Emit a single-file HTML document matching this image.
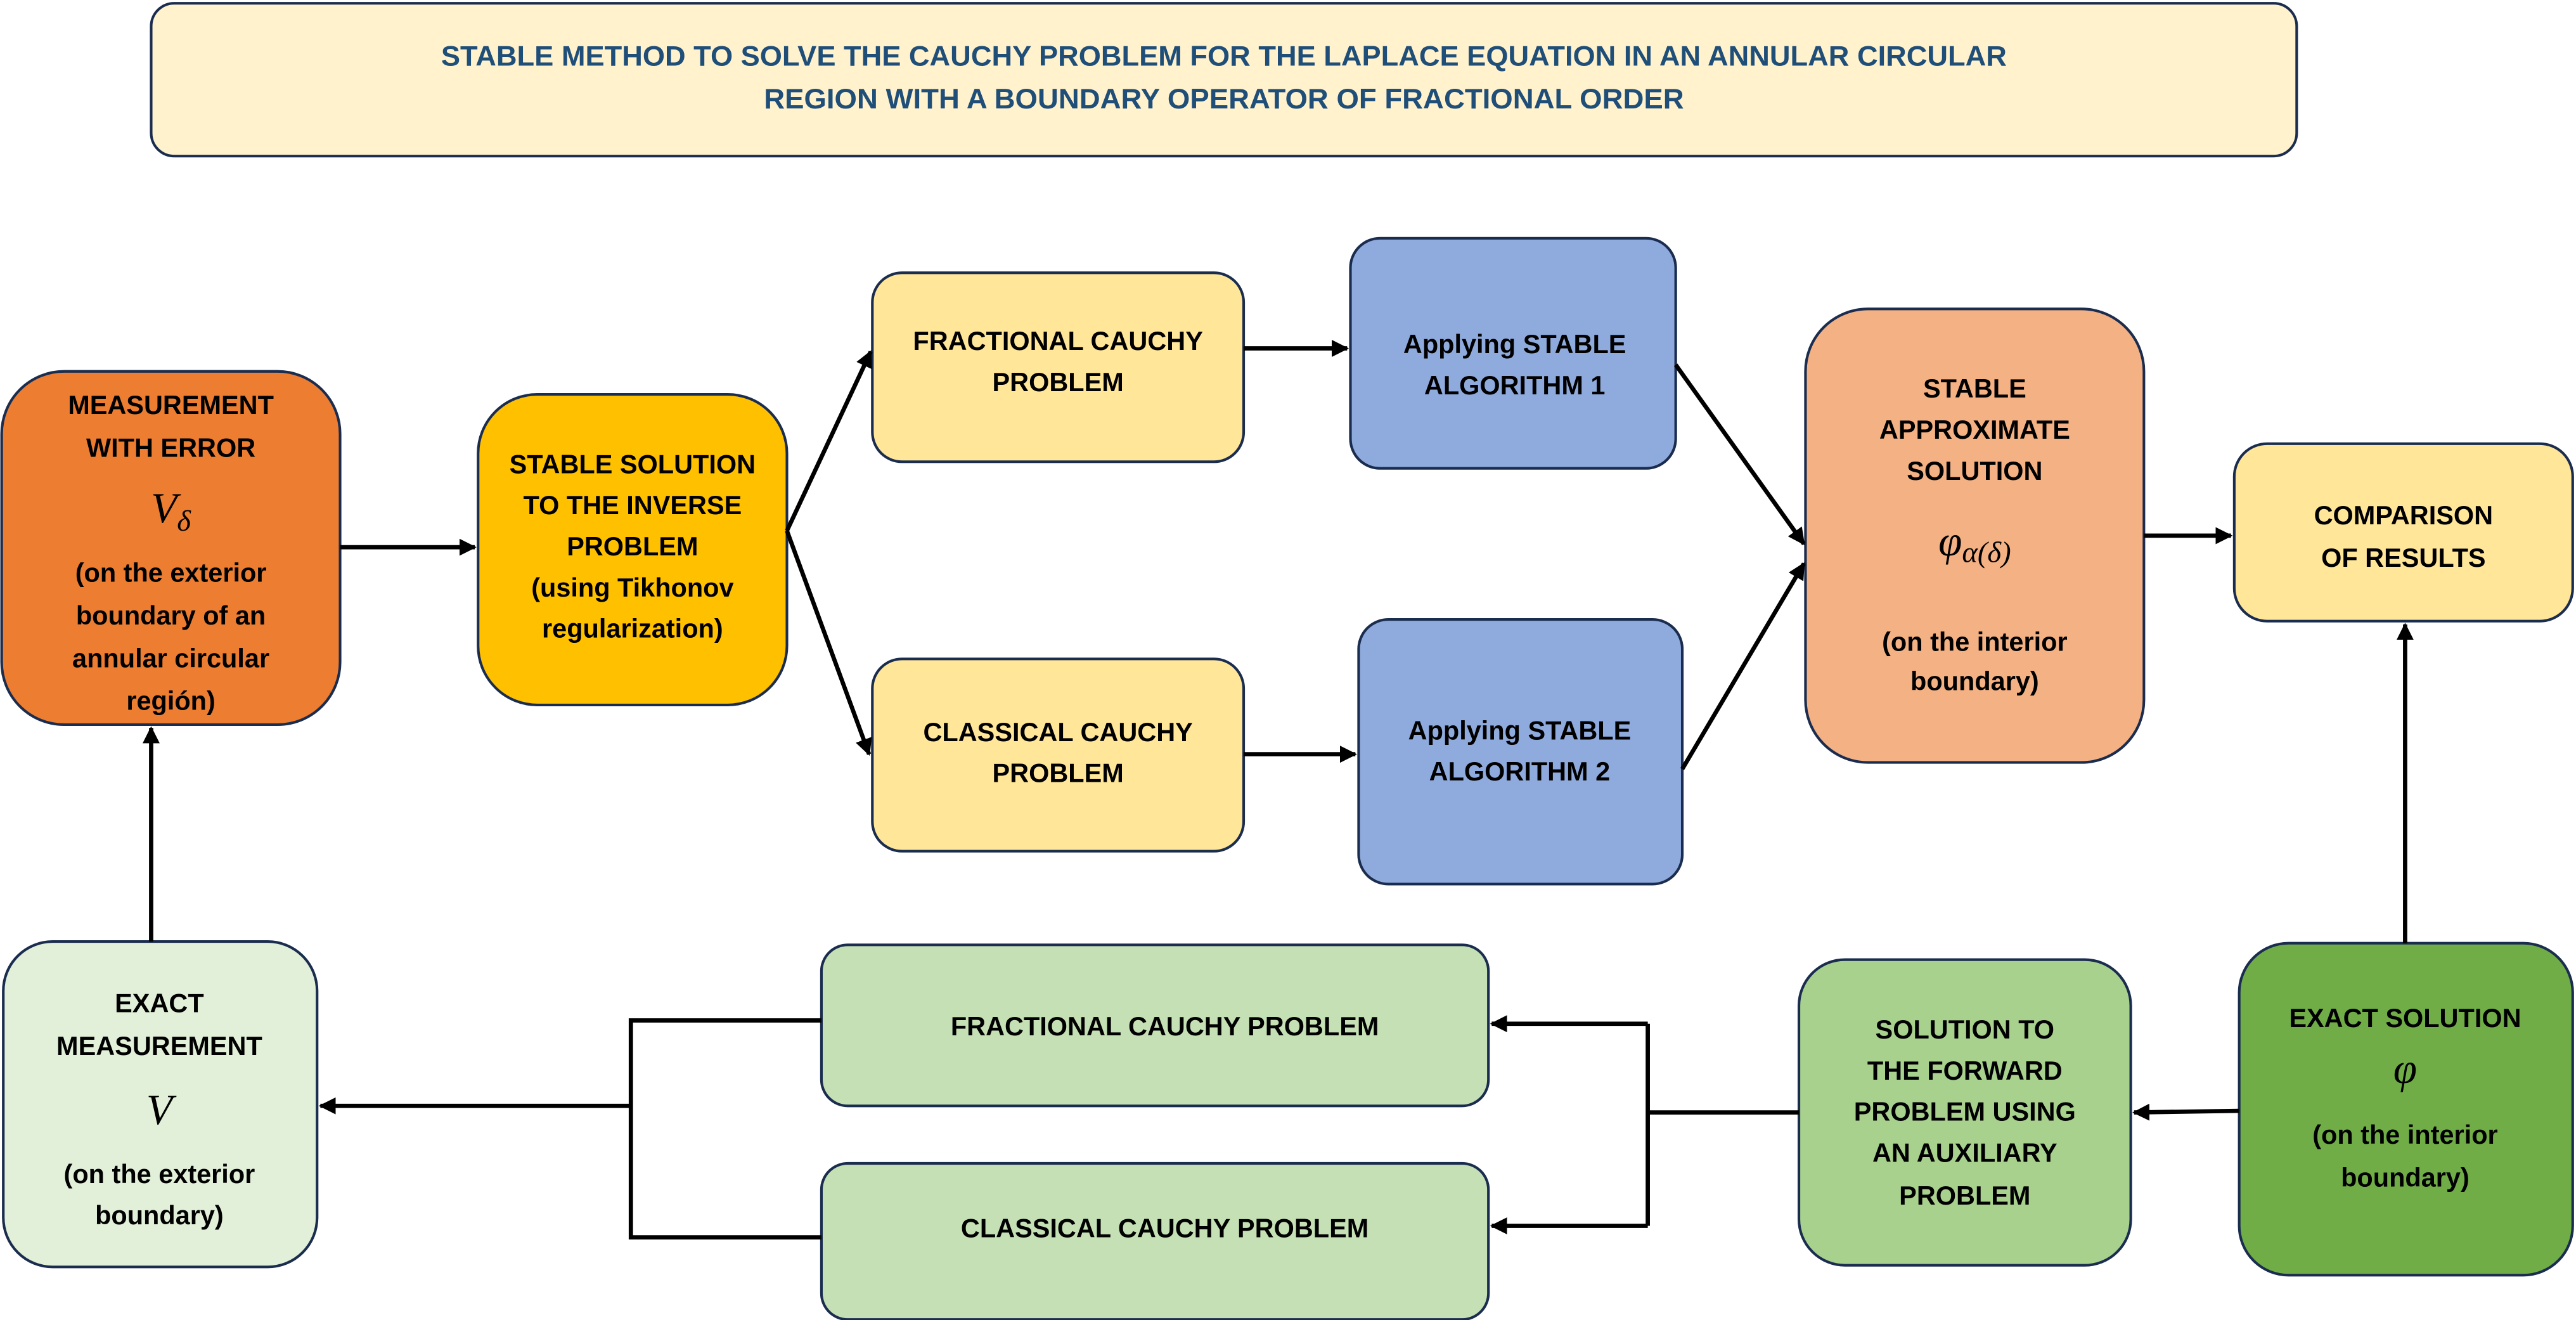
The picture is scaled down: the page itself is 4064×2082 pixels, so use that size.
<!DOCTYPE html>
<html><head><meta charset="utf-8"><style>
html,body{margin:0;padding:0;background:#fff;}
svg{display:block;}
text{font-family:"Liberation Sans",sans-serif;font-weight:bold;text-anchor:middle;fill:#000;}
.m{font-family:"Liberation Serif",serif;font-style:italic;font-weight:normal;}
</style></head><body>
<svg width="4064" height="2082" viewBox="0 0 1568 803.3" xmlns="http://www.w3.org/2000/svg">
<defs>
<marker id="a" markerWidth="4" markerHeight="4" refX="3.6" refY="2" orient="auto" markerUnits="strokeWidth">
<path d="M0,0 L4,2 L0,4 Z" fill="#000"/></marker>
</defs>
<g stroke="#1b2d4f" stroke-width="1.6">
<rect x="92" y="2" width="1306" height="93" rx="14" fill="#fff2cc"/>
<rect x="1" y="226" width="206" height="215" rx="38" fill="#ed7d31"/>
<rect x="291" y="240" width="188" height="189" rx="36" fill="#ffc000"/>
<rect x="531" y="166" width="226" height="115" rx="18" fill="#ffe699"/>
<rect x="822" y="145" width="198" height="140" rx="18" fill="#8faadc"/>
<rect x="531" y="401" width="226" height="117" rx="18" fill="#ffe699"/>
<rect x="827" y="377" width="197" height="161" rx="18" fill="#8faadc"/>
<rect x="1099" y="188" width="206" height="276" rx="38" fill="#f4b183"/>
<rect x="1360" y="270" width="206" height="108" rx="20" fill="#ffe699"/>
<rect x="2" y="573" width="191" height="198" rx="30" fill="#e2f0d9"/>
<rect x="500" y="575" width="406" height="98" rx="16" fill="#c5e0b4"/>
<rect x="500" y="708" width="406" height="95" rx="16" fill="#c5e0b4"/>
<rect x="1095" y="584" width="202" height="186" rx="28" fill="#a9d18e"/>
<rect x="1363" y="574" width="203" height="202" rx="30" fill="#70ad47"/>
</g>
<g stroke="#000" stroke-width="2.6" fill="none">
<line x1="207" y1="333" x2="289" y2="333" marker-end="url(#a)"/>
<line x1="479" y1="323" x2="530" y2="214" marker-end="url(#a)"/>
<line x1="479" y1="323" x2="529" y2="459" marker-end="url(#a)"/>
<line x1="757" y1="212" x2="820" y2="212" marker-end="url(#a)"/>
<line x1="757" y1="459" x2="825" y2="459" marker-end="url(#a)"/>
<line x1="1020" y1="222" x2="1098" y2="331" marker-end="url(#a)"/>
<line x1="1024" y1="468" x2="1098" y2="343" marker-end="url(#a)"/>
<line x1="1305" y1="326" x2="1358" y2="326" marker-end="url(#a)"/>
<line x1="1464" y1="574" x2="1464" y2="380" marker-end="url(#a)"/>
<line x1="1363" y1="676" x2="1299" y2="677" marker-end="url(#a)"/>
<polyline points="1095,677 1003,677"/>
<line x1="1003" y1="623" x2="1003" y2="746"/>
<line x1="1003" y1="623" x2="908" y2="623" marker-end="url(#a)"/>
<line x1="1003" y1="746" x2="908" y2="746" marker-end="url(#a)"/>
<polyline points="500,621 384,621 384,753 500,753"/>
<line x1="384" y1="673" x2="195" y2="673" marker-end="url(#a)"/>
<line x1="92" y1="573" x2="92" y2="443" marker-end="url(#a)"/>
</g>
<g style="fill:#1f4e79;font-size:17px">
<text x="745" y="40" textLength="953" lengthAdjust="spacingAndGlyphs" style="fill:#1f4e79">STABLE METHOD TO SOLVE THE CAUCHY PROBLEM FOR THE LAPLACE EQUATION IN AN ANNULAR CIRCULAR</text>
<text x="745" y="66" textLength="560" lengthAdjust="spacingAndGlyphs" style="fill:#1f4e79">REGION WITH A BOUNDARY OPERATOR OF FRACTIONAL ORDER</text>
</g>
<g font-size="16">
<text x="104" y="252">MEASUREMENT</text>
<text x="104" y="278">WITH ERROR</text>
<text x="104" y="318" class="m" font-size="26">V<tspan font-size="18" dy="5">δ</tspan></text>
<text x="104" y="354">(on the exterior</text>
<text x="104" y="380">boundary of an</text>
<text x="104" y="406">annular circular</text>
<text x="104" y="432">región)</text>

<text x="385" y="288">STABLE SOLUTION</text>
<text x="385" y="313">TO THE INVERSE</text>
<text x="385" y="338">PROBLEM</text>
<text x="385" y="363">(using Tikhonov</text>
<text x="385" y="388">regularization)</text>

<text x="644" y="213">FRACTIONAL CAUCHY</text>
<text x="644" y="238">PROBLEM</text>
<text x="922" y="215">Applying STABLE</text>
<text x="922" y="240">ALGORITHM 1</text>
<text x="644" y="451">CLASSICAL CAUCHY</text>
<text x="644" y="476">PROBLEM</text>
<text x="925" y="450">Applying STABLE</text>
<text x="925" y="475">ALGORITHM 2</text>

<text x="1202" y="242">STABLE</text>
<text x="1202" y="267">APPROXIMATE</text>
<text x="1202" y="292">SOLUTION</text>
<text x="1202" y="338" class="m" font-size="26">φ<tspan font-size="18" dy="4">α(δ)</tspan></text>
<text x="1202" y="396">(on the interior</text>
<text x="1202" y="420">boundary)</text>

<text x="1463" y="319">COMPARISON</text>
<text x="1463" y="345">OF RESULTS</text>

<text x="97" y="616">EXACT</text>
<text x="97" y="642">MEASUREMENT</text>
<text x="97" y="684" class="m" font-size="26">V</text>
<text x="97" y="720">(on the exterior</text>
<text x="97" y="745">boundary)</text>

<text x="709" y="630">FRACTIONAL CAUCHY PROBLEM</text>
<text x="709" y="753">CLASSICAL CAUCHY PROBLEM</text>

<text x="1196" y="632">SOLUTION TO</text>
<text x="1196" y="657">THE FORWARD</text>
<text x="1196" y="682">PROBLEM USING</text>
<text x="1196" y="707">AN AUXILIARY</text>
<text x="1196" y="733">PROBLEM</text>

<text x="1464" y="625">EXACT SOLUTION</text>
<text x="1464" y="659" class="m" font-size="26">φ</text>
<text x="1464" y="696">(on the interior</text>
<text x="1464" y="722">boundary)</text>
</g>
</svg>
</body></html>
